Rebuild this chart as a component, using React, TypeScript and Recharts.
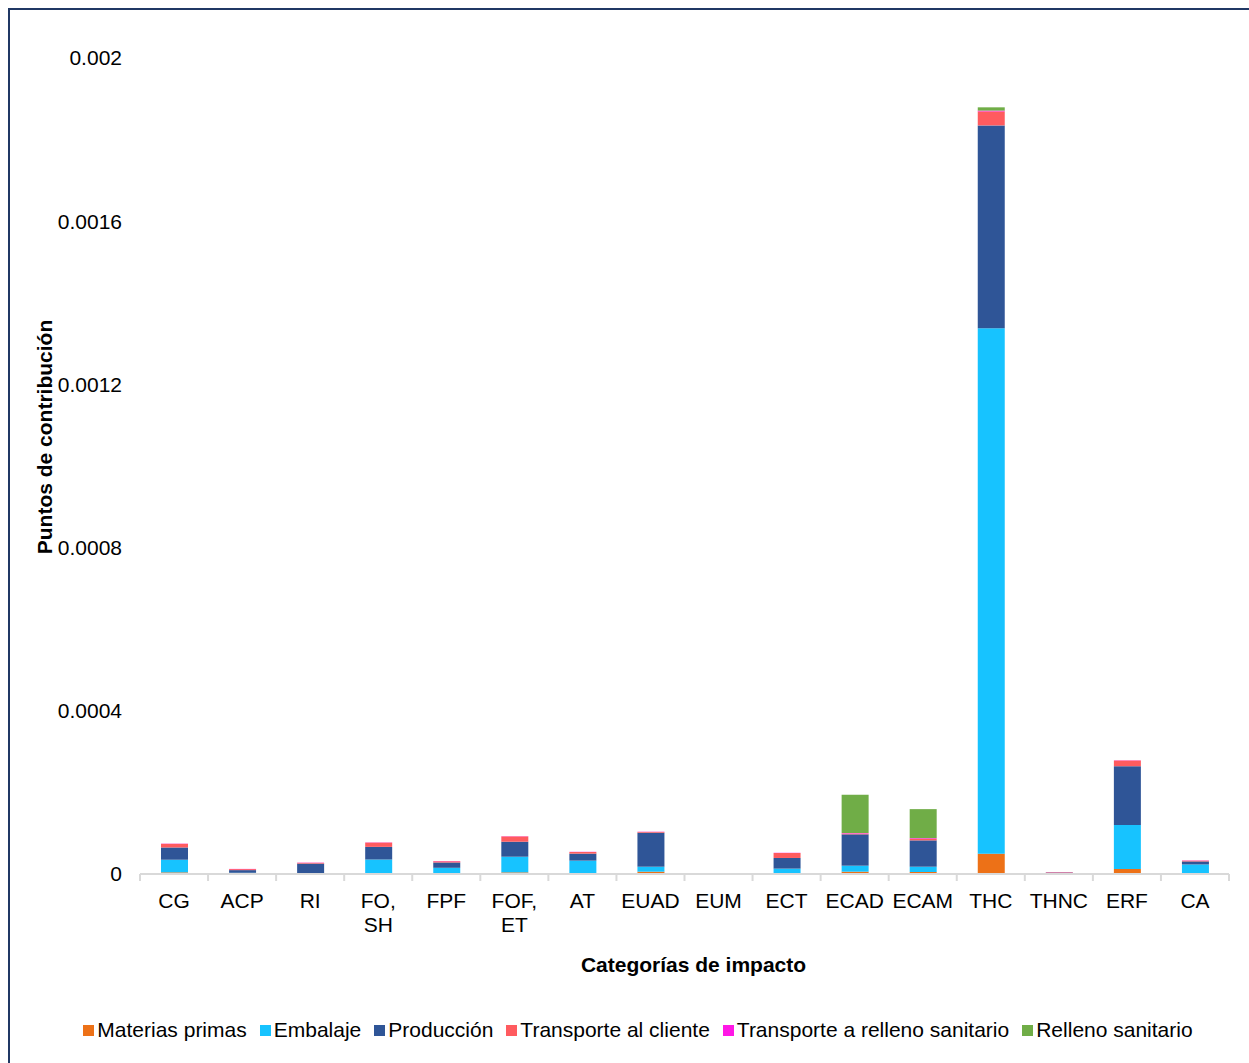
import { BarChart, Bar, XAxis, YAxis } from 'recharts'

const categories = ['CG', 'ACP', 'RI', 'FO, SH', 'FPF', 'FOF, ET', 'AT', 'EUAD', 'EUM', 'ECT', 'ECAD', 'ECAM', 'THC', 'THNC', 'ERF', 'CA']

const materiasPrimas = [0.000004, 0.000002, 0.0000005, 0.000002, 0.0000005, 0.000004, 0.000001, 0.0000057, 0.0000005, 0.000001, 0.0000057, 0.0000049, 0.0000498, 0.000001, 0.0000122, 0.0000005]
const embalaje = [0.000031, 0.000001, 0.000001, 0.0000335, 0.0000147, 0.0000384, 0.0000318, 0.0000122, 0.0000003, 0.0000122, 0.0000147, 0.000013, 0.001288, 0.0000005, 0.000108, 0.0000229]
const produccion = [0.00003, 0.0000065, 0.000024, 0.000031, 0.000013, 0.0000367, 0.0000171, 0.0000833, 0.0000008, 0.0000261, 0.0000768, 0.0000645, 0.000497, 0.000002, 0.000144, 0.0000074]
const transporteCliente = [0.000009, 0.0000025, 0.000002, 0.0000105, 0.000003, 0.000013, 0.000004, 0.000002, 0.0000005, 0.0000122, 0.000002, 0.000004, 0.0000343, 0.000001, 0.000014, 0.000002]
const transporteRelleno = [0.0000005, 0.0000005, 0.0000005, 0.0000005, 0.0000005, 0.0000005, 0.0000005, 0.0000005, 0.0000002, 0.0000005, 0.000001, 0.0000015, 0.000002, 0.0000003, 0.0000005, 0.0000005]
const rellenoSanitario = [0, 0, 0, 0, 0, 0, 0, 0, 0, 0, 0.0000939, 0.0000711, 0.000008, 0, 0, 0]

const yTicks = [0, 0.0004, 0.0008, 0.0012, 0.0016, 0.002]

const series = [
  { key: 'materias', name: 'Materias primas', color: '#ED7117', values: materiasPrimas },
  { key: 'embalaje', name: 'Embalaje', color: '#17C3FF', values: embalaje },
  { key: 'produccion', name: 'Producción', color: '#2F5597', values: produccion },
  { key: 'cliente', name: 'Transporte al cliente', color: '#FF5B5F', values: transporteCliente },
  { key: 'trelleno', name: 'Transporte a relleno sanitario', color: '#FF17E6', values: transporteRelleno },
  { key: 'relleno', name: 'Relleno sanitario', color: '#70AD47', values: rellenoSanitario },
]

const chartData = categories.map((cat, i) => {
  const row: Record<string, string | number> = { category: cat }
  series.forEach((s) => {
    row[s.key] = s.values[i]
  })
  return row
})

const FONT = '"Liberation Sans", Arial, sans-serif'
const AXIS_GREY = '#d9d9d9'

// category labels (split onto two lines after the comma) plus the
// small tick marks that sit on the boundaries between categories
function CategoryTick(props: any) {
  const { x, y, payload, index, visibleTicksCount } = props
  const half = payload.offset || 1089 / 16 / 2
  const lines = String(payload.value).split(' ')
  const isLast = index === (visibleTicksCount ?? categories.length) - 1
  return (
    <g>
      <line x1={x - half} x2={x - half} y1={y} y2={y + 7} stroke={AXIS_GREY} strokeWidth={2} />
      {isLast && <line x1={x + half} x2={x + half} y1={y} y2={y + 7} stroke={AXIS_GREY} strokeWidth={2} />}
      <text x={x} y={y} textAnchor="middle" fontSize={21} fontFamily={FONT} fill="#000">
        {lines.map((line, i) => (
          <tspan key={i} x={x} y={y + 34 + i * 24}>
            {line}
          </tspan>
        ))}
      </text>
    </g>
  )
}

export default function App() {
  return (
    <div
      style={{
        position: 'fixed',
        left: 0,
        top: 0,
        width: 1249,
        height: 1063,
        overflow: 'hidden',
        background: '#fff',
        fontFamily: FONT,
      }}
    >
      <div
        style={{
          position: 'absolute',
          left: 8,
          top: 8,
          width: 1400,
          height: 1200,
          border: '2px solid #203864',
        }}
      />
      <div style={{ position: 'absolute', left: 0, top: 0 }}>
        <BarChart
          width={1249}
          height={1063}
          data={chartData}
          margin={{ top: 58, right: 20, left: 0, bottom: 79 }}
          barSize={27}
        >
          <XAxis
            dataKey="category"
            height={110}
            interval={0}
            tickLine={false}
            tickSize={0}
            tickMargin={0}
            axisLine={{ stroke: AXIS_GREY, strokeWidth: 2 }}
            tick={<CategoryTick />}
            label={{
              position: 'insideBottom',
              content: (p: any) => (
                <text
                  x={p.viewBox.x + p.viewBox.width / 2 + 9}
                  y={p.viewBox.y + 98}
                  textAnchor="middle"
                  fontSize={21}
                  fontWeight="bold"
                  fontFamily={FONT}
                  fill="#000"
                >
                  Categorías de impacto
                </text>
              ),
            }}
          />
          <YAxis
            width={140}
            domain={[0, 0.002]}
            ticks={yTicks}
            axisLine={false}
            tickLine={false}
            tickSize={0}
            tickMargin={18}
            tick={{ fontSize: 21, fontFamily: FONT, fill: '#000' }}
            label={{
              position: 'insideLeft',
              content: () => (
                <text
                  x={44}
                  y={437}
                  transform="rotate(-90, 44, 437)"
                  textAnchor="middle"
                  dominantBaseline="central"
                  fontSize={21}
                  fontWeight="bold"
                  fontFamily={FONT}
                  fill="#000"
                >
                  Puntos de contribución
                </text>
              ),
            }}
          />
          {series.map((s) => (
            <Bar
              key={s.key}
              dataKey={s.key}
              name={s.name}
              stackId="total"
              fill={s.color}
              isAnimationActive={false}
            />
          ))}
        </BarChart>
      </div>
      <div
        style={{
          position: 'absolute',
          left: 0,
          width: 1276,
          top: 1018,
          display: 'flex',
          justifyContent: 'center',
          alignItems: 'center',
          fontSize: 21,
          color: '#000',
          whiteSpace: 'nowrap',
        }}
      >
        {series.map((s, i) => (
          <div key={s.key} style={{ display: 'flex', alignItems: 'center', marginLeft: i === 0 ? 0 : 13 }}>
            <span style={{ display: 'inline-block', width: 11, height: 11, background: s.color, marginRight: 3 }} />
            <span>{s.name}</span>
          </div>
        ))}
      </div>
    </div>
  )
}
